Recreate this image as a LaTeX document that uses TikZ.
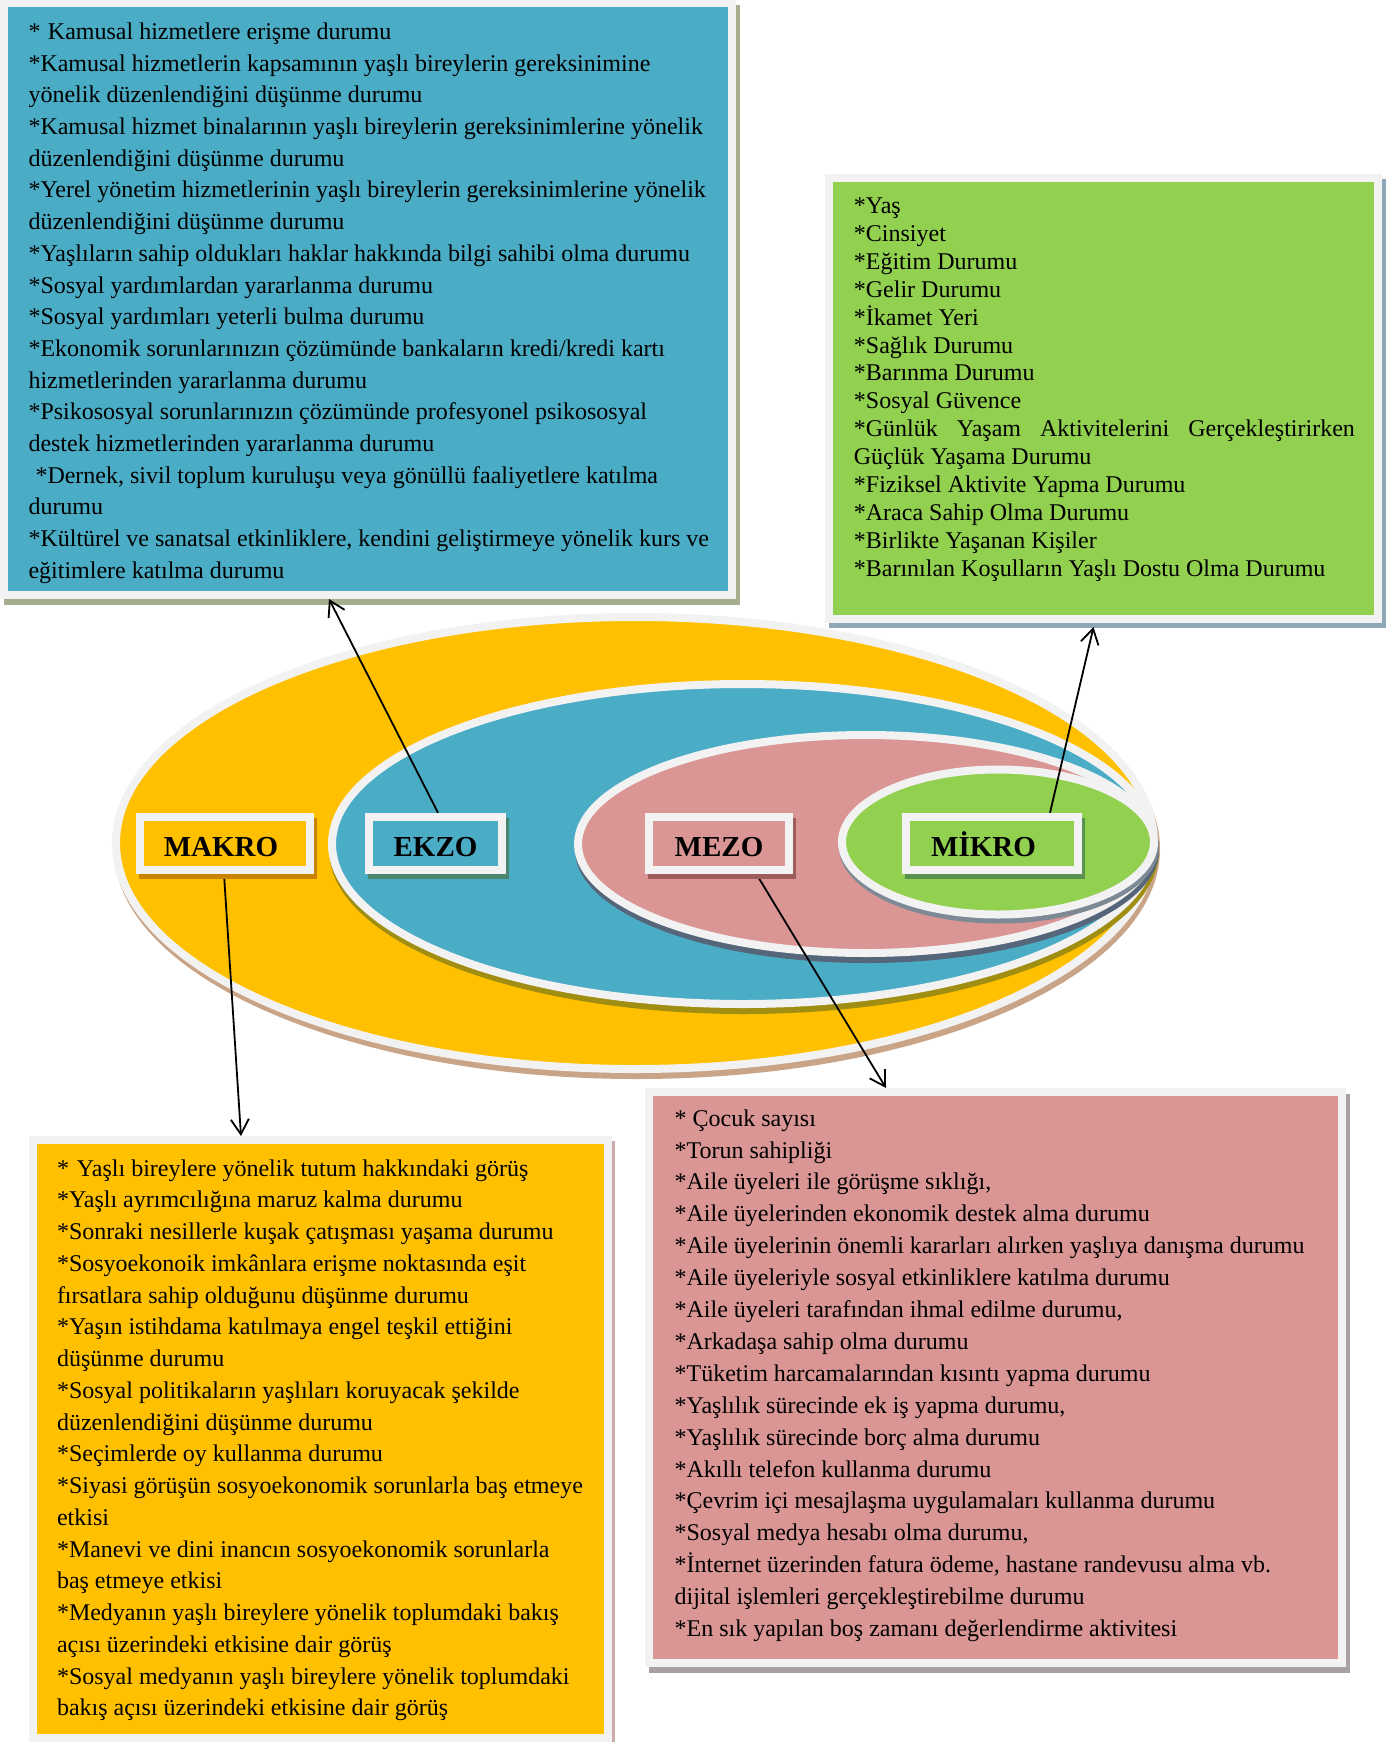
\documentclass[tikz,border=0pt]{standalone}
\usepackage{fontspec}
\setmainfont{Liberation Serif}
\usetikzlibrary{arrows.meta}
\definecolor{cOr}{HTML}{FFC000}
\definecolor{cBl}{HTML}{4BACC6}
\definecolor{cPk}{HTML}{D99694}
\definecolor{cGr}{HTML}{92D050}
\definecolor{cFr}{HTML}{F2F2F2}
\definecolor{shOrE}{HTML}{C9A487}
\definecolor{shBlE}{HTML}{A08E12}
\definecolor{shPkE}{HTML}{56667A}
\definecolor{shGrE}{HTML}{7D8A96}
\definecolor{shBlB}{HTML}{A4AE8C}
\definecolor{shGrB}{HTML}{8EA9B5}
\definecolor{shOrB}{HTML}{C9ABA8}
\definecolor{shPkB}{HTML}{A9A1A1}
\definecolor{shMak}{HTML}{C98300}
\definecolor{shEkz}{HTML}{4B8570}
\definecolor{shMez}{HTML}{9E5C5C}
\definecolor{shMik}{HTML}{5A9050}
\tikzset{
  sh/.style n args={3}{preaction={fill=#1,draw=#1,line width=8pt,transform canvas={xshift=#2,yshift=#3}}},
  framebox/.style={draw=cFr,line width=8pt,inner sep=0pt},
  labbox/.style={framebox,minimum height=53.5pt,text height=25pt,text depth=0pt,
    font=\fontsize{29}{30}\selectfont\bfseries},
  txt/.style={anchor=north west,inner sep=0pt,align=left},
  conn/.style={line width=1.8pt,-{Straight Barb[length=15pt,width=18pt]}},
}
\begin{document}
\begin{tikzpicture}[x=1pt,y=-1pt]
\useasboundingbox (0,0) rectangle (1395,1742);
\fill[white] (0,0) rectangle (1395,1742);
% ellipses
\fill[shOrE] (637,849) ellipse [x radius=523pt,y radius=230pt];
\filldraw[fill=cOr,draw=cFr,line width=8pt] (635,843) ellipse [x radius=519pt,y radius=226pt];
\fill[shBlE] (744,850) ellipse [x radius=415pt,y radius=164pt];
\filldraw[fill=cBl,draw=cFr,line width=8pt] (743,844) ellipse [x radius=411pt,y radius=160pt];
\fill[shPkE] (867,850) ellipse [x radius=292pt,y radius=113pt];
\filldraw[fill=cPk,draw=cFr,line width=8pt] (866,844) ellipse [x radius=288pt,y radius=109pt];
\fill[shGrE] (999,847) ellipse [x radius=160pt,y radius=76.5pt];
\filldraw[fill=cGr,draw=cFr,line width=8pt] (998,842) ellipse [x radius=156pt,y radius=72.5pt];
% text boxes
\node[framebox,fill=cBl,sh={shBlB}{4pt}{-6pt},minimum width=728pt,minimum height=592pt] (bluebox) at (368,299) {};
\node[framebox,fill=cGr,sh={shGrB}{4pt}{-5pt},minimum width=549pt,minimum height=441pt] (greenbox) at (1103.5,398.5) {};
\node[framebox,fill=cOr,sh={shOrB}{3pt}{-5pt},minimum width=575pt,minimum height=598pt] (orangebox) at (320,1439) {};
\node[framebox,fill=cPk,sh={shPkB}{4pt}{-6pt},minimum width=693pt,minimum height=570.6pt] (pinkbox) at (995.5,1377.3) {};
% texts
\node[txt,font=\fontsize{24}{31.7}\selectfont] (ekzotext) at (28.3,17.1) {\strut*\hspace*{7.5pt}Kamusal hizmetlere erişme durumu\\%
{}*Kamusal hizmetlerin kapsamının yaşlı bireylerin gereksinimine\\%
{}yönelik düzenlendiğini düşünme durumu\\%
{}*Kamusal hizmet binalarının yaşlı bireylerin gereksinimlerine yönelik\\%
{}düzenlendiğini düşünme durumu\\%
{}*Yerel yönetim hizmetlerinin yaşlı bireylerin gereksinimlerine yönelik\\%
{}düzenlendiğini düşünme durumu\\%
{}*Yaşlıların sahip oldukları haklar hakkında bilgi sahibi olma durumu\\%
{}*Sosyal yardımlardan yararlanma durumu\\%
{}*Sosyal yardımları yeterli bulma durumu\\%
{}*Ekonomik sorunlarınızın çözümünde bankaların kredi/kredi kartı\\%
{}hizmetlerinden yararlanma durumu\\%
{}*Psikososyal sorunlarınızın çözümünde profesyonel psikososyal\\%
{}destek hizmetlerinden yararlanma durumu\\%
{}\hspace*{7pt}*Dernek, sivil toplum kuruluşu veya gönüllü faaliyetlere katılma\\%
{}durumu\\%
{}*Kültürel ve sanatsal etkinliklere, kendini geliştirmeye yönelik kurs ve\\%
{}eğitimlere katılma durumu};
\node[txt,font=\fontsize{24}{27.9}\selectfont] (mikrotext) at (853.7,193.8) {\strut*Yaş\\%
{}*Cinsiyet\\%
{}*Eğitim Durumu\\%
{}*Gelir Durumu\\%
{}*İkamet Yeri\\%
{}*Sağlık Durumu\\%
{}*Barınma Durumu\\%
{}*Sosyal Güvence\\%
{}\makebox[501pt][s]{*Günlük Yaşam Aktivitelerini Gerçekleştirirken}\\%
{}Güçlük Yaşama Durumu\\%
{}*Fiziksel Aktivite Yapma Durumu\\%
{}*Araca Sahip Olma Durumu\\%
{}*Birlikte Yaşanan Kişiler\\%
{}*Barınılan Koşulların Yaşlı Dostu Olma Durumu};
\node[txt,font=\fontsize{24}{31.75}\selectfont] (makrotext) at (56.8,1153.8) {\strut*\hspace*{8pt}Yaşlı bireylere yönelik tutum hakkındaki görüş\\%
{}*Yaşlı ayrımcılığına maruz kalma durumu\\%
{}*Sonraki nesillerle kuşak çatışması yaşama durumu\\%
{}*Sosyoekonoik imkânlara erişme noktasında eşit\\%
{}fırsatlara sahip olduğunu düşünme durumu\\%
{}*Yaşın istihdama katılmaya engel teşkil ettiğini\\%
{}düşünme durumu\\%
{}*Sosyal politikaların yaşlıları koruyacak şekilde\\%
{}düzenlendiğini düşünme durumu\\%
{}*Seçimlerde oy kullanma durumu\\%
{}*Siyasi görüşün sosyoekonomik sorunlarla baş etmeye\\%
{}etkisi\\%
{}*Manevi ve dini inancın sosyoekonomik sorunlarla\\%
{}baş etmeye etkisi\\%
{}*Medyanın yaşlı bireylere yönelik toplumdaki bakış\\%
{}açısı üzerindeki etkisine dair görüş\\%
{}*Sosyal medyanın yaşlı bireylere yönelik toplumdaki\\%
{}bakış açısı üzerindeki etkisine dair görüş};
\node[txt,font=\fontsize{24}{31.9}\selectfont] (mezotext) at (674.4,1103.6) {\strut*\ Çocuk sayısı\\%
{}*Torun sahipliği\\%
{}*Aile üyeleri ile görüşme sıklığı,\\%
{}*Aile üyelerinden ekonomik destek alma durumu\\%
{}*Aile üyelerinin önemli kararları alırken yaşlıya danışma durumu\\%
{}*Aile üyeleriyle sosyal etkinliklere katılma durumu\\%
{}*Aile üyeleri tarafından ihmal edilme durumu,\\%
{}*Arkadaşa sahip olma durumu\\%
{}*Tüketim harcamalarından kısıntı yapma durumu\\%
{}*Yaşlılık sürecinde ek iş yapma durumu,\\%
{}*Yaşlılık sürecinde borç alma durumu\\%
{}*Akıllı telefon kullanma durumu\\%
{}*Çevrim içi mesajlaşma uygulamaları kullanma durumu\\%
{}*Sosyal medya hesabı olma durumu,\\%
{}*İnternet üzerinden fatura ödeme, hastane randevusu alma vb.\\%
{}dijital işlemleri gerçekleştirebilme durumu\\%
{}*En sık yapılan boş zamanı değerlendirme aktivitesi};
% label positions
\coordinate (makroC) at (225,843.5);
\coordinate (ekzoC) at (435.5,843.5);
\coordinate (mezoC) at (719,843.5);
\coordinate (mikroC) at (992,843.5);
\coordinate (mikroT) at (1093.5,627);
% arrows (drawn beneath the label boxes)
\path (makroC) node[labbox,minimum width=170pt] (makro) {};
\path (ekzoC) node[labbox,minimum width=133pt] (ekzo) {};
\path (mezoC) node[labbox,minimum width=139.5pt] (mezo) {};
\path (mikroC) node[labbox,minimum width=172pt] (mikro) {};
\draw[conn] ([xshift=2.5pt]ekzo.north) -- ([xshift=-39pt]bluebox.south);
\draw[conn] ([xshift=58pt]mikro.north) -- (mikroT);
\draw[conn] ([xshift=-1pt]makro.south) -- ([xshift=-79pt]orangebox.north);
\draw[conn] ([xshift=37.5pt]mezo.south) -- ([xshift=-109.5pt]pinkbox.north);
\node[labbox,fill=cOr,sh={shMak}{3pt}{-5pt},minimum width=170pt] (makrolab) at (makroC) {\hspace*{-8pt}MAKRO};
\node[labbox,fill=cBl,sh={shEkz}{3pt}{-5pt},minimum width=133pt] (ekzolab) at (ekzoC) {EKZO};
\node[labbox,fill=cPk,sh={shMez}{3pt}{-5pt},minimum width=139.5pt] (mezolab) at (mezoC) {MEZO};
\node[labbox,fill=cGr,sh={shMik}{3pt}{-5pt},minimum width=172pt] (mikrolab) at (mikroC) {\hspace*{-17pt}MİKRO};
\end{tikzpicture}
\end{document}
